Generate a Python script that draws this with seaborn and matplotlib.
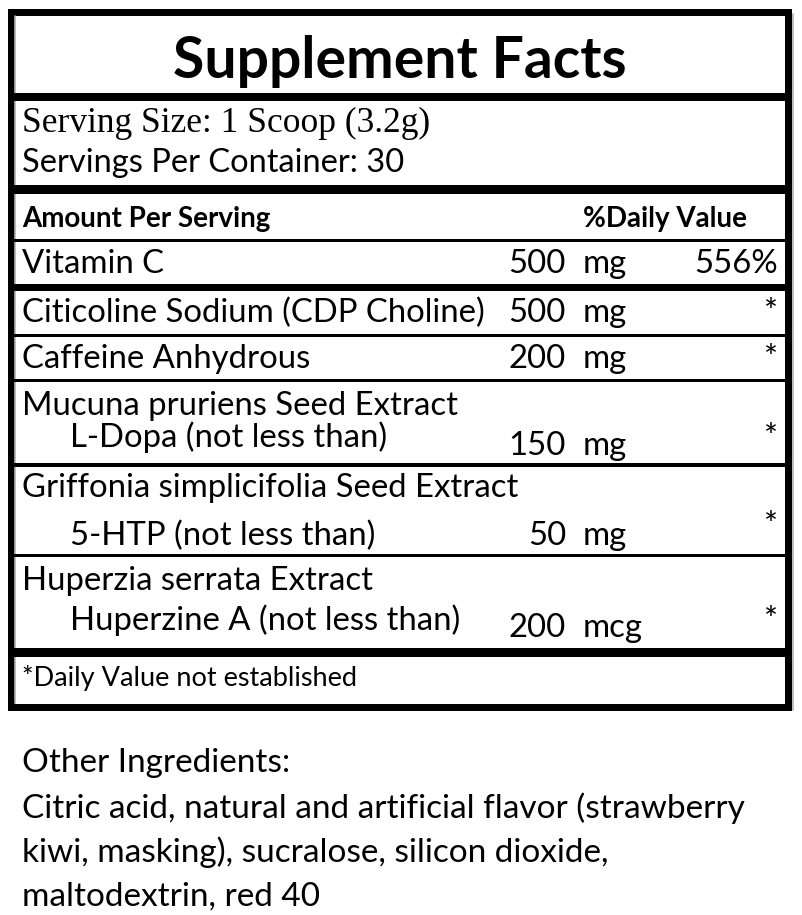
import matplotlib
matplotlib.use('Agg')
import matplotlib.pyplot as plt
import seaborn as sns

sns.set_theme(style='white')
plt.rcParams['font.family'] = ['Lato', 'DejaVu Sans']
plt.rcParams['text.color'] = 'black'

# label content
title = 'Supplement Facts'
serving_size = 'Serving Size: 1 Scoop (3.2g)'
servings_per = 'Servings Per Container: 30'
names = ['Vitamin C', 'Citicoline Sodium (CDP Choline)', 'Caffeine Anhydrous',
         'Mucuna pruriens Seed Extract', 'Griffonia simplicifolia Seed Extract',
         'Huperzia serrata Extract']
subnames = ['', '', '', 'L-Dopa (not less than)', '5-HTP (not less than)',
            'Huperzine A (not less than)']
amounts = ['500', '500', '200', '150', '50', '200']
units = ['mg', 'mg', 'mg', 'mg', 'mg', 'mcg']
daily_values = ['556%', '*', '*', '*', '*', '*']
footnote = '*Daily Value not established'
other_title = 'Other Ingredients:'
other_lines = ['Citric acid, natural and artificial flavor (strawberry',
               'kiwi, masking), sucralose, silicon dioxide,',
               'maltodextrin, red 40']

# layout (pixels)
name_y = [273, 322, 368, 415, 497, 590]
sub_y = [None, None, None, 447, 545, 630]
amt_y = [273, 322, 368, 455, 545, 637]
star_y = [273, 322, 368, 447, 535, 630]
rules = [(97, 8), (188.5, 9), (239.5, 3), (286.5, 7), (334.5, 3),
         (379.5, 3), (464.5, 4), (554.5, 3), (651.5, 9)]
body = 23.7

fig = plt.figure(figsize=(8.02, 9.15), dpi=100)
ax = fig.add_axes([0, 0, 1, 1])
ax.set_xlim(0, 802)
ax.set_ylim(915, 0)
ax.axis('off')

# outer box
L, R, T, B = 11, 788, 12, 707
ax.plot([L, R, R, L, L], [T, T, B, B, T], color='black', lw=7 * 0.72,
        solid_joinstyle='miter', solid_capstyle='projecting')
ax.plot([15, 15], [T + 4, B - 4], color='#b0b0b0', lw=1.2)
ax.plot([792.5, 792.5], [T + 2, B + 3], color='#b0b0b0', lw=1.2)
for y, w in rules:
    ax.plot([L, R], [y, y], color='black', lw=w * 0.72, solid_capstyle='butt')

ax.text(400, 78, title, fontsize=41, fontweight='bold', ha='center', va='baseline')
ax.text(22, 132, serving_size, fontsize=25.5, family='Liberation Serif', va='baseline')
ax.text(22, 172, servings_per, fontsize=23.5, va='baseline')
ax.text(22, 227, 'Amount Per Serving', fontsize=20, fontweight='bold', va='baseline')
ax.text(583, 227, '%Daily Value', fontsize=20, fontweight='bold', va='baseline')

for i in range(len(names)):
    ax.text(22, name_y[i], names[i], fontsize=body, va='baseline')
    if subnames[i]:
        ax.text(70, sub_y[i], subnames[i], fontsize=body, va='baseline')
    ax.text(566, amt_y[i], amounts[i], fontsize=body, ha='right', va='baseline')
    ax.text(583, amt_y[i], units[i], fontsize=body, va='baseline')
    ax.text(778, star_y[i], daily_values[i], fontsize=body, ha='right', va='baseline')

ax.text(22, 686, footnote, fontsize=19.5, va='baseline')
ax.text(22, 772, other_title, fontsize=24, va='baseline')
for k, line in enumerate(other_lines):
    ax.text(22, 818 + 44 * k, line, fontsize=24, va='baseline')

fig.savefig('out.png', dpi=100, facecolor='white')
